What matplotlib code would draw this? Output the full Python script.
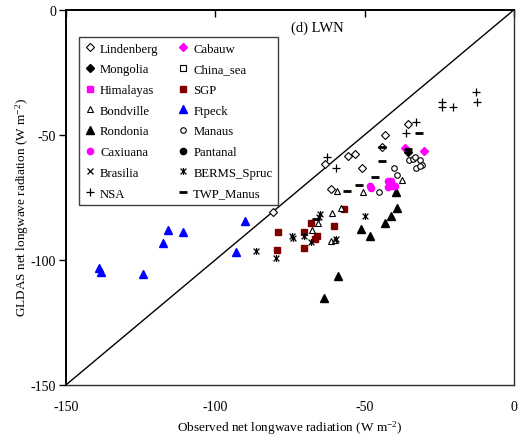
import matplotlib
matplotlib.use('Agg')
import matplotlib.pyplot as plt
from matplotlib.path import Path
import numpy as np

plt.rcParams['font.family'] = ['Liberation Serif', 'DejaVu Serif']
plt.rcParams['mathtext.fontset'] = 'custom'
plt.rcParams['mathtext.rm'] = 'Liberation Serif'
plt.rcParams['mathtext.it'] = 'Liberation Serif:italic'
plt.rcParams['axes.unicode_minus'] = False

# observed (x) vs GLDAS (y) net longwave, W m-2
lindenberg_x = [-80.6, -63.2, -55.7, -53.2, -50.8, -61.1, -43.2, -44.3, -35.4]
lindenberg_y = [-80.7, -61.7, -58.3, -57.5, -63.3, -71.6, -50.0, -55.0, -45.6]
cabauw_x = [-36.6, -30.1]
cabauw_y = [-55.4, -56.3]
mongolia_x = [-35.3]
mongolia_y = [-57.0]
china_sea_x = []
china_sea_y = []
himalayas_x = []
himalayas_y = []
sgp_x = [-78.9, -79.3, -70.3, -70.3, -67.9, -65.9, -66.6, -57.0, -60.3]
sgp_y = [-88.9, -96.0, -88.9, -95.3, -85.3, -90.3, -91.8, -79.6, -86.5]
bondville_x = [-59.2, -50.6, -58.0, -61.0, -65.6, -67.6, -61.1, -59.9, -37.3]
bondville_y = [-72.5, -72.8, -79.4, -81.1, -85.1, -88.0, -92.5, -92.0, -68.0]
ftpeck_x = [-138.9, -138.2, -124.3, -117.4, -115.8, -110.8, -90.0, -92.9]
ftpeck_y = [-103.3, -104.7, -105.5, -93.1, -87.9, -88.9, -84.3, -96.8]
rondonia_x = [-39.6, -39.1, -41.0, -43.0, -51.1, -48.1, -59.0, -63.6]
rondonia_y = [-72.9, -79.2, -82.3, -85.3, -87.6, -90.5, -106.3, -115.2]
manaus_x = [-45.2, -40.2, -39.1, -35.1, -33.7, -33.2, -31.3, -30.7, -32.8, -31.5]
manaus_y = [-72.9, -63.3, -66.0, -59.9, -59.6, -58.9, -59.9, -62.0, -63.3, -62.5]
caxiuana_x = [-47.7, -48.2, -42.1, -41.3, -40.4, -42.1, -41.0, -39.9]
caxiuana_y = [-71.3, -70.5, -68.3, -69.6, -70.5, -70.9, -68.3, -70.5]
pantanal_x = []
pantanal_y = []
brasilia_x = []
brasilia_y = []
berms_x = [-86.4, -79.5, -74.4, -74.1, -70.3, -68.0, -65.0, -65.2, -49.9, -59.6]
berms_y = [-96.3, -99.3, -90.3, -91.3, -90.3, -92.7, -81.6, -82.9, -82.5, -91.8]
nsa_x = [-62.5, -59.4, -32.8, -36.2, -12.7, -12.3, -23.9, -24.2, -20.3]
nsa_y = [-58.9, -63.3, -44.9, -49.2, -32.7, -36.9, -36.7, -38.9, -38.9]
twp_x = [-56.0, -51.8, -46.6, -44.3, -44.3, -66.1, -31.7, -35.5]
twp_y = [-72.3, -70.0, -66.9, -60.3, -55.0, -83.6, -49.2, -55.8]

star = Path([(-1, -1), (1, 1), (-1, 1), (1, -1), (0, -1.2), (0, 1.2)],
            [Path.MOVETO, Path.LINETO, Path.MOVETO, Path.LINETO, Path.MOVETO, Path.LINETO])

fig = plt.figure(figsize=(5.2, 4.39), dpi=100)
ax = fig.add_axes([0.127, 0.121, 0.861, 0.854])

ax.plot([-150, 0], [-150, 0], '-', color='black', lw=1, zorder=1)

def pts(x, y, label, **kw):
    return ax.plot(x, y, linestyle='none', label=label, **kw)[0]

h = {}
h['Lindenberg'] = pts(lindenberg_x, lindenberg_y, 'Lindenberg', marker='D', ms=3.8, mfc='white', mec='black', mew=0.8)
h['Cabauw'] = pts(cabauw_x, cabauw_y, 'Cabauw', marker='D', ms=4, mfc='#FF00FF', mec='#FF00FF')
h['Mongolia'] = pts(mongolia_x, mongolia_y, 'Mongolia', marker='D', ms=4, mfc='black', mec='black')
h['China_sea'] = pts(china_sea_x, china_sea_y, 'China_sea', marker='s', ms=4, mfc='white', mec='black', mew=0.8)
h['Himalayas'] = pts(himalayas_x, himalayas_y, 'Himalayas', marker='s', ms=4.5, mfc='#FF00FF', mec='#FF00FF')
h['SGP'] = pts(sgp_x, sgp_y, 'SGP', marker='s', ms=4.8, mfc='#800000', mec='#800000')
h['Bondville'] = pts(bondville_x, bondville_y, 'Bondville', marker='^', ms=5, mfc='white', mec='black', mew=0.8)
h['Ftpeck'] = pts(ftpeck_x, ftpeck_y, 'Ftpeck', marker='^', ms=5.5, mfc='#0000FF', mec='#0000FF')
h['Rondonia'] = pts(rondonia_x, rondonia_y, 'Rondonia', marker='^', ms=5.5, mfc='black', mec='black')
h['Manaus'] = pts(manaus_x, manaus_y, 'Manaus', marker='o', ms=4, mfc='white', mec='black', mew=0.8)
h['Caxiuana'] = pts(caxiuana_x, caxiuana_y, 'Caxiuana', marker='o', ms=4.5, mfc='#FF00FF', mec='#FF00FF')
h['Pantanal'] = pts(pantanal_x, pantanal_y, 'Pantanal', marker='o', ms=4.5, mfc='black', mec='black')
h['Brasilia'] = pts(brasilia_x, brasilia_y, 'Brasilia', marker='x', ms=4.5, mec='black', mew=0.9)
h['BERMS_Spruc'] = pts(berms_x, berms_y, 'BERMS_Spruc', marker=star, ms=5, mec='black', mfc='none', mew=0.9)
h['NSA'] = pts(nsa_x, nsa_y, 'NSA', marker='+', ms=6, mec='black', mew=0.9)
h['TWP_Manus'] = pts(twp_x, twp_y, 'TWP_Manus', marker='_', ms=6, mec='black', mew=2)

order = ['Lindenberg', 'Mongolia', 'Himalayas', 'Bondville', 'Rondonia', 'Caxiuana', 'Brasilia', 'NSA',
         'Cabauw', 'China_sea', 'SGP', 'Ftpeck', 'Manaus', 'Pantanal', 'BERMS_Spruc', 'TWP_Manus']
leg = ax.legend([h[k] for k in order], order, ncol=2, loc='upper left',
                bbox_to_anchor=(0.029, 0.928), borderaxespad=0, fontsize=9.2,
                fancybox=False, framealpha=1, edgecolor='#404040',
                handlelength=0.8, handletextpad=0.4, labelspacing=0.68,
                columnspacing=1.5, borderpad=0.45)
leg.get_frame().set_linewidth(1.0)

ax.text(0.502, 0.955, '(d) LWN', transform=ax.transAxes, fontsize=10.5, va='center', ha='left')

ax.set_xlim(-150, 0)
ax.set_ylim(-150, 0)
ax.set_xticks([-150, -100, -50, 0])
ax.set_yticks([-150, -100, -50, 0])
ax.tick_params(axis='x', bottom=False, top=True, labelbottom=True, labeltop=False,
               direction='in', length=5, width=1, pad=11, labelsize=10)
ax.tick_params(axis='y', left=True, direction='out', length=5, width=1, pad=2, labelsize=10)

for s in ['top', 'left']:
    ax.spines[s].set_linewidth(1.4)
    ax.spines[s].set_color('black')
for s in ['bottom', 'right']:
    ax.spines[s].set_linewidth(1.0)
    ax.spines[s].set_color('#303030')

ax.set_xlabel('Observed net longwave radiation (W m$^{-2}$)', fontsize=9.5, labelpad=4)
ax.set_ylabel('GLDAS net longwave radiation (W m$^{-2}$)', fontsize=9.5, labelpad=1)
ax.yaxis.set_label_coords(-0.078, 0.475)

fig.savefig('out.png', dpi=100)
